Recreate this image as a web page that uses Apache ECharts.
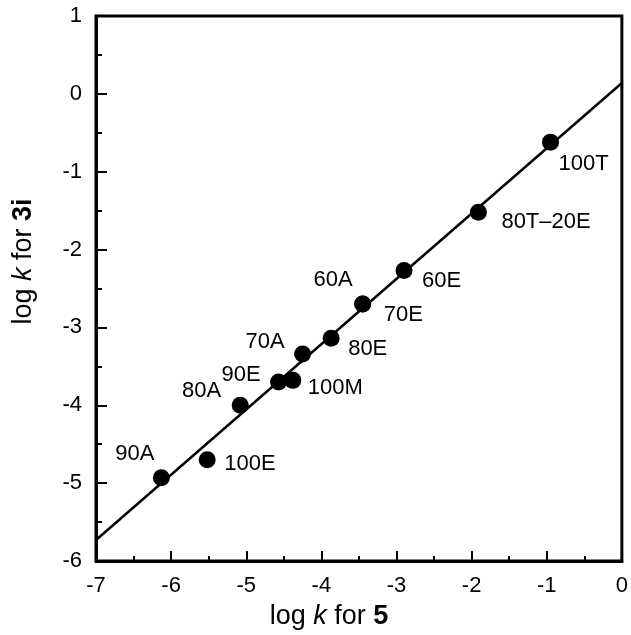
<!DOCTYPE html>
<html>
<head>
<meta charset="utf-8">
<script src="https://cdn.jsdelivr.net/npm/echarts@6/dist/echarts.min.js"></script>
<style>
html,body{margin:0;padding:0;background:#fff;}
#chart{width:631px;height:635px;}
</style>
</head>
<body>
<div id="chart"></div>
<script>
// Data
const names  = ['100T', '80T\u201320E', '60E', '60A', '70E', '80E', '70A', '100M', '90E', '80A', '100E', '90A'];
const logK5  = [-0.95, -1.91, -2.90, -3.45, -3.45, -3.87, -4.25, -4.38, -4.57, -5.08, -5.52, -6.13];
const logK3i = [-0.62, -1.52, -2.27, -2.70, -2.70, -3.14, -3.34, -3.68, -3.70, -4.00, -4.70, -4.93];
const fitX = [-7, 0];
const fitY = [-5.73, 0.14];
const xTicks = [-7, -6, -5, -4, -3, -2, -1, 0];
const yTicks = [-6, -5, -4, -3, -2, -1, 0, 1];

// Label placement (style, not data)
const labelStyle = {
  '100T':        {align: 'left',  offset: [8, 22]},
  '80T\u201320E':{align: 'left',  offset: [23, 10]},
  '60E':         {align: 'left',  offset: [18, 10]},
  '60A':         {align: 'right', offset: [-10, -24]},
  '70E':         {align: 'left',  offset: [21, 11]},
  '80E':         {align: 'left',  offset: [17, 11]},
  '70A':         {align: 'right', offset: [-18, -12]},
  '100M':        {align: 'left',  offset: [15, 8]},
  '90E':         {align: 'right', offset: [-18, -7]},
  '80A':         {align: 'right', offset: [-19, -14]},
  '100E':        {align: 'left',  offset: [17, 4]},
  '90A':         {align: 'right', offset: [-7, -24]}
};

const FONT = 'Liberation Sans, Arial, Helvetica, sans-serif';
const chart = echarts.init(document.getElementById('chart'), null, {renderer: 'canvas'});

const pts = names.map((n, i) => ({
  value: [logK5[i], logK3i[i]],
  name: n,
  label: {
    show: true,
    formatter: n,
    position: 'inside',
    align: labelStyle[n].align,
    verticalAlign: 'middle',
    offset: labelStyle[n].offset,
    color: '#000',
    fontSize: 22,
    fontFamily: FONT
  }
}));

const richTitle = {
  a: {fontSize: 27, fontFamily: FONT, color: '#000'},
  i: {fontSize: 27, fontFamily: FONT, fontStyle: 'italic', color: '#000'},
  b: {fontSize: 27, fontFamily: FONT, fontWeight: 'bold', color: '#000'}
};

const option = {
  animation: false,
  backgroundColor: '#fff',
  grid: {
    left: 96, right: 8, top: 16, bottom: 72,
    show: true, borderColor: '#000', borderWidth: 3, backgroundColor: 'transparent'
  },
  xAxis: {
    type: 'value', min: xTicks[0], max: xTicks[xTicks.length - 1], interval: 1,
    name: '{a|log }{i|k}{a| for }{b|5}',
    nameLocation: 'middle', nameGap: 42,
    nameTextStyle: {rich: richTitle, padding: [0, 60, 0, 0]},
    axisLine: {show: true, onZero: false, lineStyle: {color: '#000', width: 3}},
    axisTick: {show: true, inside: true, length: 10, lineStyle: {color: '#000', width: 2}},
    minorTick: {show: true, splitNumber: 2, length: 5, lineStyle: {color: '#000', width: 2}},
    splitLine: {show: false},
    axisLabel: {
      margin: 14, color: '#000', fontSize: 22, fontFamily: FONT,
      formatter: v => xTicks.includes(v) ? String(v) : ''
    }
  },
  yAxis: {
    type: 'value', min: yTicks[0], max: yTicks[yTicks.length - 1], interval: 1,
    name: '{a|log }{i|k}{a| for }{b|3i}',
    nameLocation: 'middle', nameGap: 59, nameRotate: 90,
    nameTextStyle: {rich: richTitle, padding: [0, 0, 0, 54]},
    axisLine: {show: true, onZero: false, lineStyle: {color: '#000', width: 3}},
    axisTick: {show: true, inside: true, length: 11, lineStyle: {color: '#000', width: 2}},
    minorTick: {show: true, splitNumber: 2, length: 6, lineStyle: {color: '#000', width: 2}},
    splitLine: {show: false},
    axisLabel: {
      margin: 14, color: '#000', fontSize: 22, fontFamily: FONT,
      formatter: v => yTicks.includes(v) ? String(v) : ''
    }
  },
  series: [
    {
      type: 'line',
      data: fitX.map((x, i) => [x, fitY[i]]),
      showSymbol: false,
      lineStyle: {color: '#000', width: 2.5},
      silent: true,
      z: 2
    },
    {
      type: 'scatter',
      data: pts,
      symbol: 'circle',
      symbolSize: 17,
      itemStyle: {color: '#000', opacity: 1},
      z: 3
    }
  ]
};
chart.setOption(option);
</script>
</body>
</html>
